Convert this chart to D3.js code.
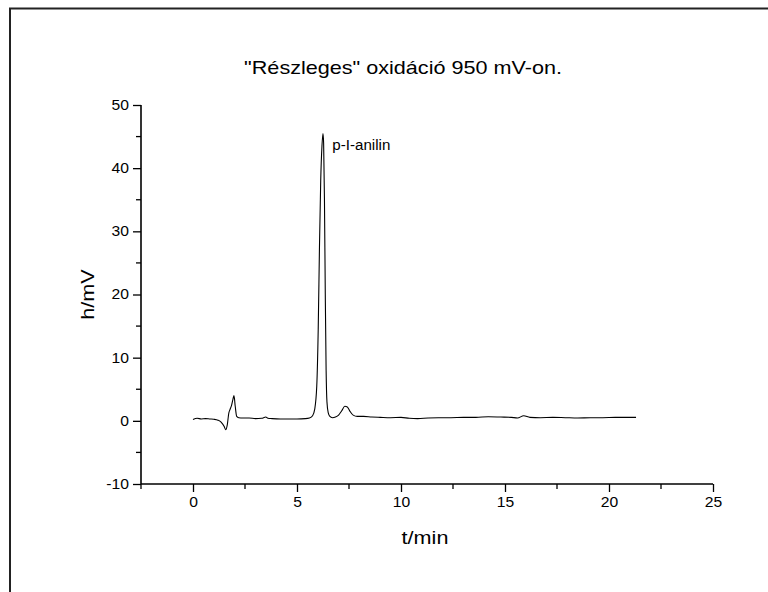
<!DOCTYPE html>
<html>
<head>
<meta charset="utf-8">
<script src="https://cdn.jsdelivr.net/npm/d3@7"></script>
<style>
  html, body { margin: 0; padding: 0; background: #fff; }
  svg { display: block; }
  text { font-family: "Liberation Sans", Arial, Helvetica, sans-serif; fill: #000; }
</style>
</head>
<body>
<svg id="chart" width="768" height="592"></svg>
<script>
// ---- data ----
const chartTitle = "\"Részleges\" oxidáció 950 mV-on.";
const xLabel = "t/min";
const yLabel = "h/mV";
const peakLabel = "p-I-anilin";
const peakLabelTime = 6.7;
const peakLabelValue = 43.3;

const xTicks = [0, 5, 10, 15, 20, 25];
const xMinorTicks = [-2.5, 2.5, 7.5, 12.5, 17.5, 22.5];
const yTicks = [-10, 0, 10, 20, 30, 40, 50];
const yMinorTicks = [-5, 5, 15, 25, 35, 45];

const times = [0.0, 0.2, 0.4, 0.6, 0.8, 1.0, 1.2, 1.35, 1.5, 1.57, 1.65, 1.72, 1.78, 1.85, 1.92, 1.97, 2.03, 2.1, 2.2, 2.4, 2.7, 3.0, 3.3, 3.5, 3.6, 3.8, 4.2, 4.6, 5.0, 5.4, 5.6, 5.75, 5.85, 5.95, 6.02, 6.08, 6.14, 6.2, 6.25, 6.28, 6.32, 6.36, 6.4, 6.44, 6.5, 6.58, 6.7, 6.85, 7.0, 7.15, 7.3, 7.42, 7.55, 7.7, 7.9, 8.2, 8.6, 9.0, 9.5, 10.0, 10.4, 10.8, 11.3, 11.8, 12.4, 13.0, 13.6, 14.2, 14.8, 15.3, 15.6, 15.9, 16.2, 16.7, 17.3, 17.9, 18.5, 19.1, 19.7, 20.3, 20.8, 21.3];
const values = [0.2, 0.4, 0.3, 0.35, 0.3, 0.25, 0.1, -0.2, -0.9, -1.4, -0.6, 1.2, 1.8, 2.4, 3.4, 4.0, 2.3, 0.7, 0.5, 0.45, 0.45, 0.35, 0.4, 0.6, 0.4, 0.35, 0.3, 0.3, 0.3, 0.35, 0.45, 0.8, 1.8, 5.5, 14.5, 27.5, 38.0, 43.5, 45.5, 44.0, 35.0, 20.0, 8.0, 3.0, 1.3, 0.7, 0.5, 0.6, 0.9, 1.6, 2.3, 2.2, 1.5, 0.9, 0.7, 0.7, 0.6, 0.55, 0.5, 0.55, 0.4, 0.35, 0.45, 0.5, 0.5, 0.55, 0.55, 0.65, 0.6, 0.55, 0.45, 0.8, 0.55, 0.5, 0.55, 0.5, 0.45, 0.5, 0.5, 0.55, 0.55, 0.55];

// ---- layout ----
const svg = d3.select("#chart");
const x = d3.scaleLinear().domain([-2.5, 25]).range([141, 713]);
const y = d3.scaleLinear().domain([-10, 50]).range([484, 105]);
const fmt = d => String(d); // hyphen minus like the original

// outer frame
svg.append("rect")
  .attr("x", 10).attr("y", 8.5)
  .attr("width", 780).attr("height", 600)
  .attr("fill", "none").attr("stroke", "#222").attr("stroke-width", 2);

// title (glyphs slightly stretched horizontally, as in the original)
svg.append("text")
  .attr("transform", "translate(403,74) scale(1.2,1)")
  .attr("text-anchor", "middle")
  .attr("font-size", 18)
  .text(chartTitle);

// axes
const xAxis = d3.axisBottom(x).tickValues(xTicks).tickSize(8).tickPadding(5).tickFormat(fmt);
const gx = svg.append("g").attr("transform", `translate(0,${y(-10)})`).call(xAxis);
gx.selectAll(".domain").attr("d", `M${x(-2.5)},0H${x(25)}`).attr("stroke-width", 1.6);
gx.selectAll(".tick line").attr("stroke-width", 1.3);
gx.selectAll(".tick text")
  .attr("font-size", 14)
  .style("font-family", "Liberation Sans, Arial, sans-serif")
  .attr("transform", "scale(1.12,1)")
  .attr("x", d => 0);
gx.selectAll(".tick").each(function(d) {
  d3.select(this).select("text").attr("transform", "scale(1.12,1)");
});
gx.selectAll(".minor").data(xMinorTicks).enter().append("line")
  .attr("class", "minor")
  .attr("x1", d => x(d)).attr("x2", d => x(d))
  .attr("y1", 0).attr("y2", 5)
  .attr("stroke", "#000").attr("stroke-width", 1.3);

const yAxis = d3.axisLeft(y).tickValues(yTicks).tickSize(8).tickPadding(4).tickFormat(fmt);
const gy = svg.append("g").attr("transform", `translate(${x(-2.5)},0)`).call(yAxis);
gy.selectAll(".domain").attr("d", `M0,${y(50)}V${y(-10)}`).attr("stroke-width", 1.6);
gy.selectAll(".tick line").attr("stroke-width", 1.3);
gy.selectAll(".tick text")
  .attr("font-size", 14)
  .style("font-family", "Liberation Sans, Arial, sans-serif")
  .attr("x", -12 / 1.12)
  .attr("transform", "scale(1.12,1)");
gy.selectAll(".minor").data(yMinorTicks).enter().append("line")
  .attr("class", "minor")
  .attr("x1", 0).attr("x2", -5)
  .attr("y1", d => y(d)).attr("y2", d => y(d))
  .attr("stroke", "#000").attr("stroke-width", 1.3);

// axis labels
svg.append("text")
  .attr("transform", `translate(${x(10) + 24},544) scale(1.2,1)`)
  .attr("text-anchor", "middle")
  .attr("font-size", 18)
  .text(xLabel);
svg.append("text")
  .attr("transform", `translate(94,${y(20)}) rotate(-90) scale(1.2,1)`)
  .attr("text-anchor", "middle")
  .attr("font-size", 18)
  .text(yLabel);

// trace
const pts = times.map((t, i) => [t, values[i]]);
svg.append("path")
  .datum(pts)
  .attr("fill", "none")
  .attr("stroke", "#000")
  .attr("stroke-width", 1.1)
  .attr("stroke-linejoin", "round")
  .attr("d", d3.line().x(d => x(d[0])).y(d => y(d[1])).curve(d3.curveMonotoneX));

// peak annotation
svg.append("text")
  .attr("transform", `translate(${x(peakLabelTime)},${y(peakLabelValue) + 3}) scale(1.08,1)`)
  .attr("font-size", 14)
  .text(peakLabel);
</script>
</body>
</html>
